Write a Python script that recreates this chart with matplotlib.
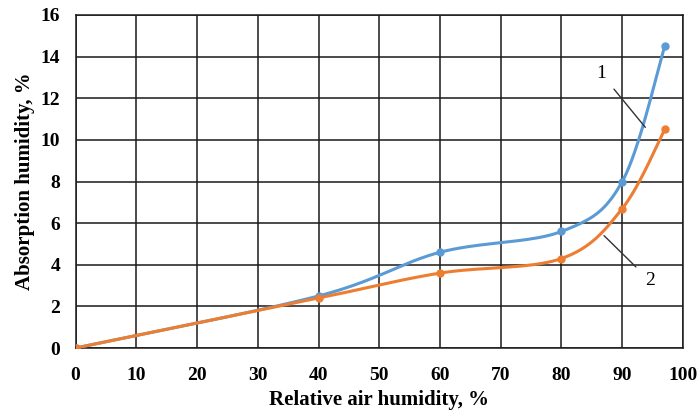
import numpy as np
import matplotlib
matplotlib.use("Agg")
import matplotlib.pyplot as plt

# data
x_vals = [0, 40, 60, 80, 90, 97]
series_1 = [0, 2.5, 4.6, 5.6, 8.0, 14.5]
series_2 = [0, 2.4, 3.6, 4.3, 6.7, 10.5]
x_ticks = [0, 10, 20, 30, 40, 50, 60, 70, 80, 90, 100]
y_ticks = [0, 2, 4, 6, 8, 10, 12, 14, 16]


def smooth(xs, ys, n=40):
    # Catmull-Rom style bezier, like the "smoothed line" option in Excel
    xs = np.asarray(xs, float)
    ys = np.asarray(ys, float)
    px, py = [], []
    for i in range(len(xs) - 1):
        i0 = max(i - 1, 0)
        i3 = min(i + 2, len(xs) - 1)
        p0 = np.array([xs[i], ys[i]])
        p3 = np.array([xs[i + 1], ys[i + 1]])
        c1 = p0 + (np.array([xs[i + 1], ys[i + 1]]) - np.array([xs[i0], ys[i0]])) / 6
        c2 = p3 - (np.array([xs[i3], ys[i3]]) - np.array([xs[i], ys[i]])) / 6
        t = np.linspace(0, 1, n)[:, None]
        pts = ((1 - t) ** 3) * p0 + 3 * ((1 - t) ** 2) * t * c1 + 3 * (1 - t) * t ** 2 * c2 + t ** 3 * p3
        px.extend(pts[:, 0])
        py.extend(pts[:, 1])
    return px, py


plt.rcParams['font.family'] = ['Liberation Serif', 'DejaVu Serif']

fig = plt.figure(figsize=(6.98, 4.15), dpi=100)
ax = fig.add_axes([0.1082, 0.1614, 0.8703, 0.8025])

blue = '#5B9BD5'
orange = '#ED7D31'

for ys, col in [(series_1, blue), (series_2, orange)]:
    sx, sy = smooth(x_vals, ys)
    ax.plot(sx, sy, color=col, lw=2.2, solid_capstyle='round', zorder=3)
    ax.plot(x_vals, ys, 'o', color=col, ms=5, zorder=4)

ax.set_xlim(0, 100)
ax.set_ylim(0, 16)
ax.set_xticks(x_ticks)
ax.set_yticks(y_ticks)
ax.tick_params(length=0, labelsize=14)
ax.tick_params(axis='x', pad=14)
ax.tick_params(axis='y', pad=11)
for lab in ax.get_xticklabels() + ax.get_yticklabels():
    lab.set_fontweight('bold')
ax.grid(True, color='#1a1a1a', lw=1.1)
ax.set_axisbelow(True)
for sp in ax.spines.values():
    sp.set_color('#1a1a1a')
    sp.set_linewidth(1.1)

ax.set_xlabel('Relative air humidity, %', fontsize=15, fontweight='bold', labelpad=4)
ax.set_ylabel('Absorption humidity, %', fontsize=15, fontweight='bold', labelpad=4)

# curve labels
ax.annotate('1', xy=(93.8, 10.6), xytext=(86.5, 13.2), fontsize=14,
            ha='center', va='center',
            arrowprops=dict(arrowstyle='-', color='#333333', lw=1.0, shrinkA=6, shrinkB=0))
ax.annotate('2', xy=(87.0, 5.4), xytext=(94.5, 3.25), fontsize=14,
            ha='center', va='center',
            arrowprops=dict(arrowstyle='-', color='#333333', lw=1.0, shrinkA=6, shrinkB=0))

fig.savefig('out.png', dpi=100)
